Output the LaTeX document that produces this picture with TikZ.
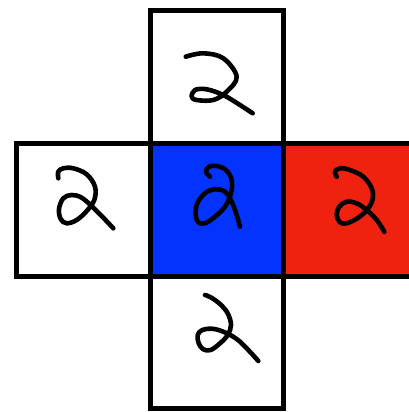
\documentclass[tikz,border=0pt]{standalone}
\definecolor{cblue}{RGB}{4,51,255}
\definecolor{cred}{RGB}{238,34,14}
\tikzset{
  sq/.style={draw=black, line width=5pt, line join=miter},
  digit/.style={draw=black, line width=4.6pt, line cap=round, line join=round}
}
\begin{document}
\begin{tikzpicture}[x=1pt,y=-1pt]
\useasboundingbox (0,0) rectangle (409,412);
\clip (0,0) rectangle (409,412);
% fills
\fill[cblue] (150,143) rectangle (283,276);
\fill[cred] (283,143) rectangle (420,276);
% squares
\draw[sq] (150,10.5) rectangle (283,143);
\draw[sq] (16.5,143) rectangle (150,276);
\draw[sq] (150,143) rectangle (283,276);
\draw[sq] (283,143) rectangle (420,276);
\draw[sq] (150,276) rectangle (283,408.5);
% digits
% top
\draw[digit] plot[smooth, tension=0.6] coordinates {(185.7,56.7) (203.3,53.3) (223.3,58.3) (236.7,76.7) (226.7,91.7) (213.3,100) (196.7,100) (191.7,96.7) (195,90) (206.7,89.3) (223.3,95) (240,105) (252.7,113.3)};
% left
\draw[digit] plot[smooth, tension=0.6] coordinates {(58.3,178.3) (58.3,171.7) (63.3,168.3) (73.3,168.3) (86.7,174.3) (95,186.7) (94.3,200) (86.7,211) (76.7,220) (66.7,223.3) (60.7,219) (59,209) (63.3,198.3) (71.7,195) (81.7,197.7) (93.3,207.7) (103.3,217.7) (113.3,228.3)};
% center
\draw[digit] plot[smooth, tension=0.6] coordinates {(210,176.7) (206,171.7) (209,166.7) (216.7,166) (226,170) (231.7,180) (231,193.3) (225,206.7) (215,216.7) (205,223.3) (198.3,222.3) (195.7,215) (197.3,203.3) (205,193.3) (215,189.3) (225,191.7) (231.7,201.7) (236.7,215) (240,226.7)};
% right
\draw[digit] plot[smooth, tension=0.6] coordinates {(336.7,176.7) (335,171.7) (340,168.3) (350,170) (363.3,176.7) (371.7,188.3) (372.7,199) (367.7,209) (358.3,217.7) (346.7,223.3) (340,222.3) (336.7,215) (339.3,206.7) (346.7,201.7) (356.7,203.3) (366.7,210) (376.7,220) (384.3,231.7)};
% bottom
\draw[digit] plot[smooth, tension=0.6] coordinates {(205,295) (210.7,297.3) (220,304) (227.7,313.3) (231,325) (227.7,335) (220,343.3) (210.7,350) (203.3,349.3) (198.7,343.3) (197.7,335) (202.3,330) (211.7,328.7) (223.3,331.7) (236.7,339) (248.3,350) (258.3,361)};
\end{tikzpicture}
\end{document}
